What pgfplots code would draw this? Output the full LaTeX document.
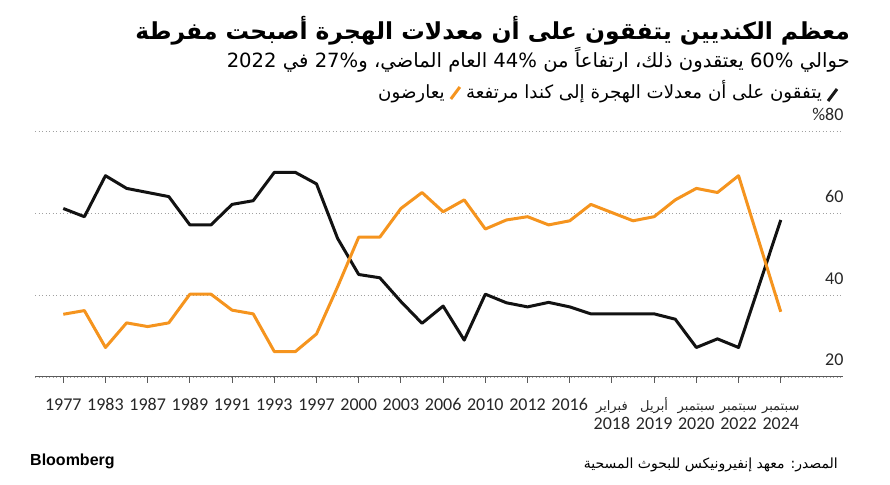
\documentclass[border=0pt]{standalone}
\usepackage{fontspec}
\usepackage{pgfplots}
\pgfplotsset{compat=1.18}
\setmainfont{Carlito}
\newfontfamily\arabicfont[Script=Arabic]{DejaVu Sans}
\newfontfamily\numfont{DejaVu Sans}
\newfontfamily\brandfont{Liberation Sans}
\TeXXeTstate=1
\definecolor{bbgorange}{HTML}{F5941E}
\definecolor{axisgray}{HTML}{5A5A5A}
\definecolor{gridgray}{HTML}{A0A0A0}
\newcommand{\arm}[1]{{\arabicfont\fontsize{13}{15}\selectfont\beginR #1\endR}}
\newcommand{\num}[1]{\beginL{\numfont #1}\endL{}}

\begin{document}
\begin{tikzpicture}[x=1pt,y=1pt]
\useasboundingbox (0,0) rectangle (890,484);

% titles
\node[anchor=base east, inner sep=0] at (850,444)
  {\arabicfont\bfseries\fontsize{23.4}{26}\selectfont\beginR معظم الكنديين يتفقون على أن معدلات الهجرة أصبحت مفرطة\endR};
\node[anchor=base east, inner sep=0] at (850,416)
  {\arabicfont\fontsize{19.6}{22}\selectfont\beginR حوالي \num{60\%} يعتقدون ذلك، ارتفاعاً من \num{44\%} العام الماضي، و\num{27\%} في \num{2022}\endR};

% legend
\node[anchor=base east, inner sep=0] (l1) at (822,385)
  {\arabicfont\fontsize{18.2}{20}\selectfont\beginR يتفقون على أن معدلات الهجرة إلى كندا مرتفعة\endR};
\draw[line width=3pt, black!90] (828,383) -- (837,395);
\draw[line width=3pt, bbgorange] ([xshift=-15pt]l1.base west) -- ++(9,12);
\node[anchor=base east, inner sep=0, xshift=-21pt] at (l1.base west)
  {\arabicfont\fontsize{18.2}{20}\selectfont\beginR يعارضون\endR};

% footer
\node[anchor=base west, inner sep=0] at (30,19) {\brandfont\bfseries\fontsize{16}{18}\selectfont Bloomberg};
\node[anchor=base east, inner sep=0] at (838,16)
  {\arabicfont\fontsize{14}{16}\selectfont\beginR المصدر: معهد إنفيرونيكس للبحوث المسحية\endR};

\begin{axis}[
  at={(35pt,107pt)}, anchor=south west,
  width=808pt, height=246pt, scale only axis,
  xmin=-1.34, xmax=36.95, ymin=20, ymax=80,
  axis x line*=bottom, axis y line*=right,
  y axis line style={draw=none},
  x axis line style={axisgray, line width=1pt},
  tick align=outside, major tick length=6pt,
  xtick style={axisgray, line width=1pt},
  ytick style={draw=none},
  xtick={0,2,...,34},
  xticklabels={1977,1983,1987,1989,1991,1993,1997,2000,2003,2006,2010,2012,2016,
    \arm{فبراير},\arm{أبريل},\arm{سبتمبر},\arm{سبتمبر},\arm{سبتمبر}},
  extra x ticks={26,28,30,32,34},
  extra x tick labels={2018,2019,2020,2022,2024},
  extra x tick style={tick label style={yshift=-19pt}},
  xticklabel style={anchor=base, yshift=-27pt},
  ytick={20,40,60,80},
  yticklabels={20,40,60,\%80},
  yticklabel style={anchor=base east, xshift=-2pt, yshift=11pt},
  ymajorgrids,
  major grid style={gridgray, dash pattern=on 1pt off 2.5pt, line width=0.9pt},
  tick label style={font=\fontsize{18}{20}\selectfont, text=black!85},
  clip=false,
]
% agree immigration is too high
\addplot[black!93, line width=3pt, line join=round] coordinates {
  (0,61.1) (1,59.1) (2,69.1) (3,66.0) (4,65.0) (5,64.0) (6,57.1) (7,57.1)
  (8,62.1) (9,63.0) (10,69.9) (11,69.9) (12,67.1) (13,53.8) (14,45.0) (15,44.2)
  (16,38.4) (17,33.1) (18,37.3) (19,29.0) (20,40.2) (21,38.1) (22,37.1) (23,38.2)
  (24,37.1) (25,35.4) (26,35.4) (27,35.4) (28,35.4) (29,34.1) (30,27.2) (31,29.3)
  (32,27.2) (34,58.3)
};
% disagree
\addplot[bbgorange, line width=3pt, line join=round] coordinates {
  (0,35.3) (1,36.2) (2,27.2) (3,33.2) (4,32.3) (5,33.2) (6,40.2) (7,40.2)
  (8,36.3) (9,35.4) (10,26.2) (11,26.2) (12,30.5) (13,42.0) (14,54.1) (15,54.1)
  (16,61.1) (17,65.0) (18,60.3) (19,63.2) (20,56.1) (21,58.3) (22,59.1) (23,57.1)
  (24,58.1) (25,62.1) (26,60.1) (27,58.1) (28,59.1) (29,63.2) (30,66.0) (31,65.0)
  (32,69.1) (34,35.9)
};
\end{axis}
\end{tikzpicture}
\end{document}
